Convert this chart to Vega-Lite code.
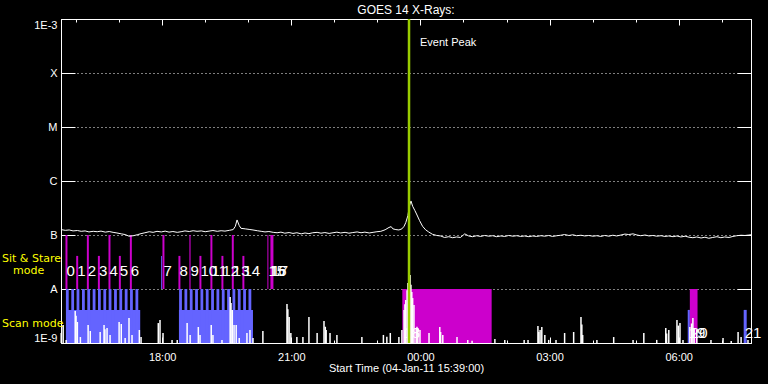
{
  "$schema": "https://vega.github.io/schema/vega-lite/v6.json",
  "autosize": "none",
  "width": 690,
  "height": 324,
  "padding": {"left": 61, "top": 19, "right": 17, "bottom": 41},
  "background": "black",
  "title": {"text": "GOES 14 X-Rays:", "color": "white", "fontSize": 12, "fontWeight": "normal", "font": "Liberation Sans", "offset": 1, "anchor": "middle"},
  "config": {
    "font": "Liberation Sans",
    "view": {"stroke": "white", "strokeWidth": 1, "fill": "black"},
    "axis": {"labelColor": "white", "titleColor": "white", "tickColor": "white", "domainColor": "white", "labelFontSize": 11, "titleFontSize": 11, "titleFontWeight": "normal", "labelFont": "Liberation Sans", "titleFont": "Liberation Sans"}
  },
  "datasets": {
    "goes": [
      {"t":15.65,"flux":1.26e-7},{"t":15.75,"flux":1.22e-7},{"t":15.84,"flux":1.24e-7},{"t":15.93,"flux":1.19e-7},{"t":16.03,"flux":1.21e-7},{"t":16.12,"flux":1.17e-7},{"t":16.21,"flux":1.19e-7},{"t":16.30,"flux":1.14e-7},{"t":16.40,"flux":1.17e-7},{"t":16.49,"flux":1.15e-7},{"t":16.58,"flux":1.18e-7},{"t":16.68,"flux":1.13e-7},{"t":16.77,"flux":1.16e-7},{"t":16.86,"flux":1.12e-7},{"t":16.95,"flux":1.09e-7},{"t":17.05,"flux":1.05e-7},{"t":17.14,"flux":1.02e-7},{"t":17.23,"flux":9.5e-8},{"t":17.33,"flux":9.7e-8},{"t":17.42,"flux":1.01e-7},{"t":17.51,"flux":1.06e-7},{"t":17.60,"flux":1.10e-7},{"t":17.70,"flux":1.15e-7},{"t":17.79,"flux":1.12e-7},{"t":17.88,"flux":1.17e-7},{"t":17.98,"flux":1.14e-7},{"t":18.07,"flux":1.18e-7},{"t":18.16,"flux":1.13e-7},{"t":18.25,"flux":1.16e-7},{"t":18.35,"flux":1.12e-7},{"t":18.44,"flux":1.15e-7},{"t":18.53,"flux":1.19e-7},{"t":18.63,"flux":1.16e-7},{"t":18.72,"flux":1.20e-7},{"t":18.81,"flux":1.17e-7},{"t":18.91,"flux":1.19e-7},{"t":19.00,"flux":1.15e-7},{"t":19.09,"flux":1.18e-7},{"t":19.18,"flux":1.21e-7},{"t":19.28,"flux":1.17e-7},{"t":19.37,"flux":1.20e-7},{"t":19.46,"flux":1.18e-7},{"t":19.56,"flux":1.22e-7},{"t":19.65,"flux":1.26e-7},{"t":19.70,"flux":1.45e-7},{"t":19.74,"flux":1.90e-7},{"t":19.79,"flux":1.50e-7},{"t":19.83,"flux":1.33e-7},{"t":19.93,"flux":1.30e-7},{"t":20.02,"flux":1.27e-7},{"t":20.11,"flux":1.24e-7},{"t":20.21,"flux":1.20e-7},{"t":20.30,"flux":1.17e-7},{"t":20.39,"flux":1.14e-7},{"t":20.48,"flux":1.16e-7},{"t":20.58,"flux":1.12e-7},{"t":20.67,"flux":1.10e-7},{"t":20.76,"flux":1.13e-7},{"t":20.85,"flux":1.08e-7},{"t":20.95,"flux":1.11e-7},{"t":21.04,"flux":1.07e-7},{"t":21.13,"flux":1.10e-7},{"t":21.23,"flux":1.05e-7},{"t":21.32,"flux":1.09e-7},{"t":21.41,"flux":1.06e-7},{"t":21.50,"flux":1.10e-7},{"t":21.60,"flux":1.12e-7},{"t":21.69,"flux":1.08e-7},{"t":21.78,"flux":1.11e-7},{"t":21.88,"flux":1.07e-7},{"t":21.97,"flux":1.10e-7},{"t":22.06,"flux":1.13e-7},{"t":22.15,"flux":1.09e-7},{"t":22.25,"flux":1.12e-7},{"t":22.34,"flux":1.08e-7},{"t":22.43,"flux":1.11e-7},{"t":22.53,"flux":1.14e-7},{"t":22.62,"flux":1.10e-7},{"t":22.71,"flux":1.13e-7},{"t":22.81,"flux":1.09e-7},{"t":22.90,"flux":1.12e-7},{"t":22.99,"flux":1.15e-7},{"t":23.08,"flux":1.17e-7},{"t":23.18,"flux":1.25e-7},{"t":23.27,"flux":1.38e-7},{"t":23.32,"flux":1.43e-7},{"t":23.36,"flux":1.30e-7},{"t":23.43,"flux":1.26e-7},{"t":23.50,"flux":1.24e-7},{"t":23.57,"flux":1.30e-7},{"t":23.62,"flux":1.45e-7},{"t":23.66,"flux":1.70e-7},{"t":23.71,"flux":2.30e-7},{"t":23.74,"flux":3.30e-7},{"t":23.78,"flux":4.27e-7},{"t":23.82,"flux":3.40e-7},{"t":23.87,"flux":2.85e-7},{"t":23.91,"flux":2.45e-7},{"t":23.98,"flux":1.85e-7},{"t":24.05,"flux":1.45e-7},{"t":24.12,"flux":1.25e-7},{"t":24.19,"flux":1.14e-7},{"t":24.28,"flux":1.03e-7},{"t":24.38,"flux":9.8e-8},{"t":24.47,"flux":9.6e-8},{"t":24.56,"flux":9.0e-8},{"t":24.66,"flux":9.3e-8},{"t":24.75,"flux":8.9e-8},{"t":24.84,"flux":9.2e-8},{"t":24.93,"flux":9.0e-8},{"t":25.03,"flux":1.05e-7},{"t":25.12,"flux":9.6e-8},{"t":25.21,"flux":9.3e-8},{"t":25.31,"flux":9.7e-8},{"t":25.40,"flux":9.4e-8},{"t":25.49,"flux":9.8e-8},{"t":25.59,"flux":9.5e-8},{"t":25.68,"flux":9.7e-8},{"t":25.77,"flux":9.3e-8},{"t":25.87,"flux":9.6e-8},{"t":25.96,"flux":9.4e-8},{"t":26.05,"flux":9.8e-8},{"t":26.15,"flux":9.5e-8},{"t":26.24,"flux":9.7e-8},{"t":26.33,"flux":9.4e-8},{"t":26.42,"flux":9.6e-8},{"t":26.52,"flux":9.3e-8},{"t":26.61,"flux":9.6e-8},{"t":26.70,"flux":9.4e-8},{"t":26.80,"flux":9.7e-8},{"t":26.89,"flux":9.5e-8},{"t":26.98,"flux":9.8e-8},{"t":27.07,"flux":9.4e-8},{"t":27.17,"flux":9.7e-8},{"t":27.26,"flux":9.9e-8},{"t":27.35,"flux":1.02e-7},{"t":27.45,"flux":9.8e-8},{"t":27.54,"flux":1.01e-7},{"t":27.63,"flux":9.7e-8},{"t":27.73,"flux":9.9e-8},{"t":27.82,"flux":9.6e-8},{"t":27.91,"flux":9.8e-8},{"t":28.01,"flux":9.5e-8},{"t":28.10,"flux":9.7e-8},{"t":28.19,"flux":9.4e-8},{"t":28.28,"flux":9.8e-8},{"t":28.38,"flux":9.5e-8},{"t":28.47,"flux":9.9e-8},{"t":28.56,"flux":9.6e-8},{"t":28.66,"flux":1.00e-7},{"t":28.75,"flux":1.04e-7},{"t":28.84,"flux":1.02e-7},{"t":28.94,"flux":1.05e-7},{"t":29.03,"flux":1.00e-7},{"t":29.12,"flux":9.7e-8},{"t":29.22,"flux":1.00e-7},{"t":29.31,"flux":9.6e-8},{"t":29.40,"flux":9.8e-8},{"t":29.49,"flux":9.5e-8},{"t":29.59,"flux":9.7e-8},{"t":29.68,"flux":9.4e-8},{"t":29.77,"flux":9.6e-8},{"t":29.87,"flux":9.3e-8},{"t":29.96,"flux":9.6e-8},{"t":30.05,"flux":9.2e-8},{"t":30.15,"flux":9.5e-8},{"t":30.24,"flux":9.1e-8},{"t":30.33,"flux":8.9e-8},{"t":30.42,"flux":9.2e-8},{"t":30.52,"flux":8.8e-8},{"t":30.61,"flux":9.1e-8},{"t":30.70,"flux":8.7e-8},{"t":30.79,"flux":9.0e-8},{"t":30.89,"flux":9.3e-8},{"t":30.98,"flux":8.9e-8},{"t":31.07,"flux":9.2e-8},{"t":31.17,"flux":9.0e-8},{"t":31.26,"flux":9.4e-8},{"t":31.35,"flux":9.7e-8},{"t":31.45,"flux":9.9e-8},{"t":31.54,"flux":9.8e-8},{"t":31.63,"flux":1.00e-7},{"t":31.68,"flux":1.01e-7}
    ],
    "spikes": [
      {"t":15.655,"flux":1.53e-9},{"t":15.70,"flux":2.15e-9},{"t":15.77,"flux":1.14e-9},{"t":15.98,"flux":3.91e-9},{"t":16.00,"flux":3.2e-9},{"t":16.03,"flux":2.45e-9},{"t":16.10,"flux":1.29e-9},{"t":16.28,"flux":2.15e-9},{"t":16.33,"flux":1.67e-9},{"t":16.56,"flux":1.60e-9},{"t":16.65,"flux":2.15e-9},{"t":16.67,"flux":1.8e-9},{"t":16.72,"flux":1.90e-9},{"t":16.79,"flux":1.41e-9},{"t":17.00,"flux":2.45e-9},{"t":17.05,"flux":2.25e-9},{"t":17.14,"flux":1.24e-9},{"t":17.23,"flux":2.90e-9},{"t":17.30,"flux":1.41e-9},{"t":17.47,"flux":1.74e-9},{"t":17.51,"flux":1.29e-9},{"t":17.91,"flux":2.34e-9},{"t":17.95,"flux":2.67e-9},{"t":18.02,"flux":1.53e-9},{"t":18.23,"flux":1.14e-9},{"t":18.35,"flux":1.14e-9},{"t":18.58,"flux":2.34e-9},{"t":18.65,"flux":1.41e-9},{"t":18.84,"flux":1.98e-9},{"t":18.88,"flux":1.41e-9},{"t":19.14,"flux":2.15e-9},{"t":19.18,"flux":1.41e-9},{"t":19.39,"flux":1.14e-9},{"t":19.58,"flux":7.11e-9},{"t":19.60,"flux":5.5e-9},{"t":19.63,"flux":4.08e-9},{"t":19.67,"flux":2.15e-9},{"t":19.72,"flux":2.15e-9},{"t":19.79,"flux":1.24e-9},{"t":19.97,"flux":1.53e-9},{"t":20.04,"flux":1.74e-9},{"t":20.11,"flux":1.24e-9},{"t":20.34,"flux":1.67e-9},{"t":20.90,"flux":5.27e-9},{"t":20.92,"flux":4.2e-9},{"t":20.95,"flux":3.03e-9},{"t":20.99,"flux":1.53e-9},{"t":21.13,"flux":1.29e-9},{"t":21.27,"flux":1.29e-9},{"t":21.41,"flux":3.03e-9},{"t":21.60,"flux":1.53e-9},{"t":21.76,"flux":2.55e-9},{"t":21.79,"flux":2.0e-9},{"t":21.81,"flux":1.74e-9},{"t":21.90,"flux":1.53e-9},{"t":22.06,"flux":1.41e-9},{"t":22.64,"flux":1.29e-9},{"t":23.14,"flux":1.41e-9},{"t":23.22,"flux":1.3e-9},{"t":23.30,"flux":1.53e-9},{"t":23.50,"flux":1.29e-9},{"t":23.57,"flux":1.74e-9},{"t":23.62,"flux":4.08e-9},{"t":23.64,"flux":5.2e-9},{"t":23.66,"flux":6.25e-9},{"t":23.69,"flux":9.5e-9},{"t":23.71,"flux":1.29e-8},{"t":23.74,"flux":1.6e-8},{"t":23.76,"flux":1.82e-8},{"t":23.78,"flux":1.2e-8},{"t":23.80,"flux":8.80e-9},{"t":23.82,"flux":6.8e-9},{"t":23.85,"flux":5.05e-9},{"t":23.90,"flux":1.90e-9},{"t":23.92,"flux":2.0e-9},{"t":23.94,"flux":1.90e-9},{"t":23.99,"flux":1.74e-9},{"t":24.20,"flux":1.53e-9},{"t":24.45,"flux":1.98e-9},{"t":24.47,"flux":1.6e-9},{"t":24.52,"flux":1.41e-9},{"t":24.85,"flux":1.29e-9},{"t":25.10,"flux":1.14e-9},{"t":25.20,"flux":1.1e-9},{"t":25.73,"flux":1.19e-9},{"t":25.96,"flux":1.14e-9},{"t":26.41,"flux":1.14e-9},{"t":26.50,"flux":1.14e-9},{"t":26.73,"flux":2.06e-9},{"t":26.75,"flux":1.6e-9},{"t":26.78,"flux":1.74e-9},{"t":26.82,"flux":1.98e-9},{"t":26.89,"flux":1.41e-9},{"t":26.98,"flux":1.14e-9},{"t":27.15,"flux":1.14e-9},{"t":27.35,"flux":1.53e-9},{"t":27.56,"flux":1.60e-9},{"t":27.73,"flux":3.03e-9},{"t":27.75,"flux":2.2e-9},{"t":27.77,"flux":1.41e-9},{"t":28.10,"flux":1.14e-9},{"t":28.49,"flux":1.29e-9},{"t":28.94,"flux":1.14e-9},{"t":29.19,"flux":1.53e-9},{"t":29.49,"flux":1.14e-9},{"t":29.70,"flux":1.90e-9},{"t":29.72,"flux":1.5e-9},{"t":29.77,"flux":1.74e-9},{"t":29.96,"flux":2.67e-9},{"t":29.99,"flux":2.1e-9},{"t":30.03,"flux":2.34e-9},{"t":30.10,"flux":1.14e-9},{"t":30.26,"flux":1.98e-9},{"t":30.30,"flux":2.3e-9},{"t":30.33,"flux":2.90e-9},{"t":30.36,"flux":1.9e-9},{"t":30.42,"flux":1.74e-9},{"t":30.75,"flux":1.14e-9},{"t":31.03,"flux":1.24e-9},{"t":31.22,"flux":1.09e-9},{"t":31.38,"flux":1.60e-9},{"t":31.45,"flux":1.29e-9},{"t":31.61,"flux":1.14e-9}
    ],
    "obs": [
      {"t0":15.77,"t1":17.49,"lo":1e-9,"hi":4.1e-9,"mode":"scan"},
      {"t0":18.39,"t1":20.11,"lo":1e-9,"hi":4.1e-9,"mode":"scan"},
      {"t0":30.21,"t1":30.26,"lo":1e-9,"hi":4.1e-9,"mode":"scan"},
      {"t0":31.51,"t1":31.58,"lo":1e-9,"hi":4.1e-9,"mode":"scan"},
      {"t0":17.975,"t1":17.995,"lo":1e-8,"hi":4.1e-8,"mode":"scan"},
      {"t0":15.764,"t1":15.829,"lo":1e-9,"hi":1e-8,"mode":"scan"},
      {"t0":15.889,"t1":15.954,"lo":1e-9,"hi":1e-8,"mode":"scan"},
      {"t0":16.012,"t1":16.077,"lo":1e-9,"hi":1e-8,"mode":"scan"},
      {"t0":16.138,"t1":16.203,"lo":1e-9,"hi":1e-8,"mode":"scan"},
      {"t0":16.261,"t1":16.326,"lo":1e-9,"hi":1e-8,"mode":"scan"},
      {"t0":16.386,"t1":16.451,"lo":1e-9,"hi":1e-8,"mode":"scan"},
      {"t0":16.509,"t1":16.574,"lo":1e-9,"hi":1e-8,"mode":"scan"},
      {"t0":16.634,"t1":16.699,"lo":1e-9,"hi":1e-8,"mode":"scan"},
      {"t0":16.757,"t1":16.822,"lo":1e-9,"hi":1e-8,"mode":"scan"},
      {"t0":16.883,"t1":16.948,"lo":1e-9,"hi":1e-8,"mode":"scan"},
      {"t0":17.006,"t1":17.071,"lo":1e-9,"hi":1e-8,"mode":"scan"},
      {"t0":17.131,"t1":17.196,"lo":1e-9,"hi":1e-8,"mode":"scan"},
      {"t0":17.254,"t1":17.319,"lo":1e-9,"hi":1e-8,"mode":"scan"},
      {"t0":17.380,"t1":17.445,"lo":1e-9,"hi":1e-8,"mode":"scan"},
      {"t0":18.394,"t1":18.459,"lo":1e-9,"hi":1e-8,"mode":"scan"},
      {"t0":18.518,"t1":18.583,"lo":1e-9,"hi":1e-8,"mode":"scan"},
      {"t0":18.642,"t1":18.707,"lo":1e-9,"hi":1e-8,"mode":"scan"},
      {"t0":18.766,"t1":18.831,"lo":1e-9,"hi":1e-8,"mode":"scan"},
      {"t0":18.890,"t1":18.955,"lo":1e-9,"hi":1e-8,"mode":"scan"},
      {"t0":19.014,"t1":19.079,"lo":1e-9,"hi":1e-8,"mode":"scan"},
      {"t0":19.138,"t1":19.203,"lo":1e-9,"hi":1e-8,"mode":"scan"},
      {"t0":19.262,"t1":19.327,"lo":1e-9,"hi":1e-8,"mode":"scan"},
      {"t0":19.386,"t1":19.451,"lo":1e-9,"hi":1e-8,"mode":"scan"},
      {"t0":19.510,"t1":19.575,"lo":1e-9,"hi":1e-8,"mode":"scan"},
      {"t0":19.634,"t1":19.699,"lo":1e-9,"hi":1e-8,"mode":"scan"},
      {"t0":19.758,"t1":19.823,"lo":1e-9,"hi":1e-8,"mode":"scan"},
      {"t0":19.882,"t1":19.947,"lo":1e-9,"hi":1e-8,"mode":"scan"},
      {"t0":20.006,"t1":20.071,"lo":1e-9,"hi":1e-8,"mode":"scan"},
      {"t0":15.754,"t1":15.800,"lo":1e-8,"hi":1e-7,"mode":"sit"},
      {"t0":16.003,"t1":16.049,"lo":1e-8,"hi":4.1e-8,"mode":"sit"},
      {"t0":16.251,"t1":16.297,"lo":1e-8,"hi":1e-7,"mode":"sit"},
      {"t0":16.507,"t1":16.553,"lo":1e-8,"hi":4.1e-8,"mode":"sit"},
      {"t0":16.753,"t1":16.799,"lo":1e-8,"hi":1e-7,"mode":"sit"},
      {"t0":16.994,"t1":17.040,"lo":1e-8,"hi":4.1e-8,"mode":"sit"},
      {"t0":17.250,"t1":17.296,"lo":1e-8,"hi":1e-7,"mode":"sit"},
      {"t0":18.007,"t1":18.053,"lo":1e-8,"hi":1e-7,"mode":"sit"},
      {"t0":18.378,"t1":18.424,"lo":1e-8,"hi":4.1e-8,"mode":"sit"},
      {"t0":18.633,"t1":18.660,"lo":1e-8,"hi":1e-7,"mode":"sit"},
      {"t0":18.866,"t1":18.912,"lo":1e-8,"hi":4.1e-8,"mode":"sit"},
      {"t0":19.121,"t1":19.167,"lo":1e-8,"hi":1e-7,"mode":"sit"},
      {"t0":19.377,"t1":19.423,"lo":1e-8,"hi":4.1e-8,"mode":"sit"},
      {"t0":19.618,"t1":19.664,"lo":1e-8,"hi":1e-7,"mode":"sit"},
      {"t0":19.864,"t1":19.910,"lo":1e-8,"hi":4.1e-8,"mode":"sit"},
      {"t0":20.445,"t1":20.468,"lo":1e-8,"hi":1e-7,"mode":"sit"},
      {"t0":20.515,"t1":20.585,"lo":1e-8,"hi":1e-7,"mode":"sit"},
      {"t0":23.579,"t1":25.655,"lo":1e-9,"hi":1e-8,"mode":"sit"},
      {"t0":30.259,"t1":30.438,"lo":1e-9,"hi":1e-8,"mode":"sit"}
    ],
    "studies": [
      {"label":"0","t":15.754,"flux":2.15e-8},{"label":"1","t":16.003,"flux":2.15e-8},{"label":"2","t":16.251,"flux":2.15e-8},{"label":"3","t":16.507,"flux":2.15e-8},{"label":"4","t":16.753,"flux":2.15e-8},{"label":"5","t":16.994,"flux":2.15e-8},{"label":"6","t":17.250,"flux":2.15e-8},{"label":"7","t":18.007,"flux":2.15e-8},{"label":"8","t":18.378,"flux":2.15e-8},{"label":"9","t":18.633,"flux":2.15e-8},{"label":"10","t":18.866,"flux":2.15e-8},{"label":"11","t":19.121,"flux":2.15e-8},{"label":"12","t":19.377,"flux":2.15e-8},{"label":"13","t":19.618,"flux":2.15e-8},{"label":"14","t":19.864,"flux":2.15e-8},{"label":"15","t":20.445,"flux":2.15e-8},{"label":"16","t":20.48,"flux":2.15e-8},{"label":"17","t":20.515,"flux":2.15e-8},
      {"label":"18","t":23.579,"flux":1.55e-9},{"label":"19","t":30.21,"flux":1.55e-9},{"label":"20","t":30.259,"flux":1.55e-9},{"label":"21","t":31.51,"flux":1.55e-9}
    ]
  },
  "resolve": {"axis": {"x": "independent", "y": "independent"}},
  "layer": [
    {
      "data": {"name": "obs"},
      "mark": {"type": "rect"},
      "encoding": {
        "x": {"field": "t0", "type": "quantitative",
          "scale": {"domain": [15.65, 31.68], "nice": false, "zero": false},
          "axis": {"orient": "bottom", "values": [16,17,18,19,20,21,22,23,24,25,26,27,28,29,30,31],
            "labelExpr": "datum.value % 3 === 0 ? ((datum.value % 24 < 10 ? '0' : '') + (datum.value % 24) + ':00') : ''",
            "tickSize": {"condition": {"test": "datum.value % 3 === 0", "value": -6}, "value": -3},
            "labelPadding": 14, "labelFlush": false, "labelOverlap": false, "grid": false,
            "title": "Start Time (04-Jan-11 15:39:00)", "titlePadding": -3}},
        "x2": {"field": "t1"},
        "y": {"field": "lo", "type": "quantitative",
          "scale": {"type": "log", "domain": [1e-9, 1e-3], "nice": false},
          "axis": {"orient": "left", "values": [1e-9,1e-8,1e-7,1e-6,1e-5,1e-4,1e-3],
            "labelExpr": "datum.value >= 9e-4 ? '1E-3' : datum.value >= 9e-5 ? 'X' : datum.value >= 9e-6 ? 'M' : datum.value >= 9e-7 ? 'C' : datum.value >= 9e-8 ? 'B' : datum.value >= 9e-9 ? 'A' : '1E-9'",
            "tickSize": -14, "labelPadding": 18, "labelFlush": true, "labelOverlap": false,
            "grid": true, "gridColor": "white", "gridDash": [1, 3], "gridOpacity": 1, "title": null}},
        "y2": {"field": "hi"},
        "color": {"field": "mode", "type": "nominal", "scale": {"domain": ["scan", "sit"], "range": ["#6464ff", "#cc00cc"]}, "legend": null}
      }
    },
    {
      "data": {"name": "goes"},
      "mark": {"type": "line", "color": "white", "strokeWidth": 1, "interpolate": "linear"},
      "encoding": {
        "x": {"field": "t", "type": "quantitative",
          "axis": {"orient": "top", "values": [16,17,18,19,20,21,22,23,24,25,26,27,28,29,30,31], "labels": false,
            "tickSize": {"condition": {"test": "datum.value % 3 === 0", "value": -6}, "value": -3},
            "grid": false, "title": null}},
        "y": {"field": "flux", "type": "quantitative",
          "axis": {"orient": "right", "values": [1e-9,1e-8,1e-7,1e-6,1e-5,1e-4,1e-3], "labels": false, "tickSize": -14, "grid": false, "title": null}}
      }
    },
    {
      "data": {"name": "spikes"},
      "mark": {"type": "rule", "color": "white", "strokeWidth": 1.5},
      "encoding": {
        "x": {"field": "t", "type": "quantitative", "axis": null},
        "y": {"field": "flux", "type": "quantitative", "axis": null},
        "y2": {"datum": 1e-9}
      }
    },
    {
      "data": {"name": "studies"},
      "mark": {"type": "text", "color": "white", "fontSize": 15, "align": "left", "baseline": "middle", "dx": 1, "font": "Liberation Sans"},
      "encoding": {
        "x": {"field": "t", "type": "quantitative", "axis": null},
        "y": {"field": "flux", "type": "quantitative", "axis": null},
        "text": {"field": "label"}
      }
    },
    {
      "data": {"values": [{"label": "Sit & Stare", "t": 15.65, "flux": 3.59e-8}]},
      "mark": {"type": "text", "color": "#ffff00", "fontSize": 11, "align": "left", "baseline": "middle", "dx": -59, "font": "DejaVu Sans"},
      "encoding": {
        "x": {"field": "t", "type": "quantitative", "axis": null},
        "y": {"field": "flux", "type": "quantitative", "axis": null},
        "text": {"field": "label"}
      }
    },
    {
      "data": {"values": [{"label": "mode", "t": 15.65, "flux": 2.15e-8}]},
      "mark": {"type": "text", "color": "#ffff00", "fontSize": 11, "align": "left", "baseline": "middle", "dx": -48, "font": "DejaVu Sans"},
      "encoding": {
        "x": {"field": "t", "type": "quantitative", "axis": null},
        "y": {"field": "flux", "type": "quantitative", "axis": null},
        "text": {"field": "label"}
      }
    },
    {
      "data": {"values": [{"label": "Scan mode", "t": 15.65, "flux": 2.25e-9}]},
      "mark": {"type": "text", "color": "#ffff00", "fontSize": 11, "align": "left", "baseline": "middle", "dx": -59, "font": "DejaVu Sans"},
      "encoding": {
        "x": {"field": "t", "type": "quantitative", "axis": null},
        "y": {"field": "flux", "type": "quantitative", "axis": null},
        "text": {"field": "label"}
      }
    },
    {
      "data": {"values": [{"t": 23.735}]},
      "mark": {"type": "rule", "color": "#99cc00", "strokeWidth": 2.5},
      "encoding": {
        "x": {"field": "t", "type": "quantitative", "axis": null}
      }
    },
    {
      "data": {"values": [{"label": "Event Peak", "t": 23.735, "flux": 3.6e-4}]},
      "mark": {"type": "text", "color": "white", "fontSize": 11, "align": "left", "baseline": "middle", "dx": 11, "font": "Liberation Sans"},
      "encoding": {
        "x": {"field": "t", "type": "quantitative", "axis": null},
        "y": {"field": "flux", "type": "quantitative", "axis": null},
        "text": {"field": "label"}
      }
    }
  ]
}
